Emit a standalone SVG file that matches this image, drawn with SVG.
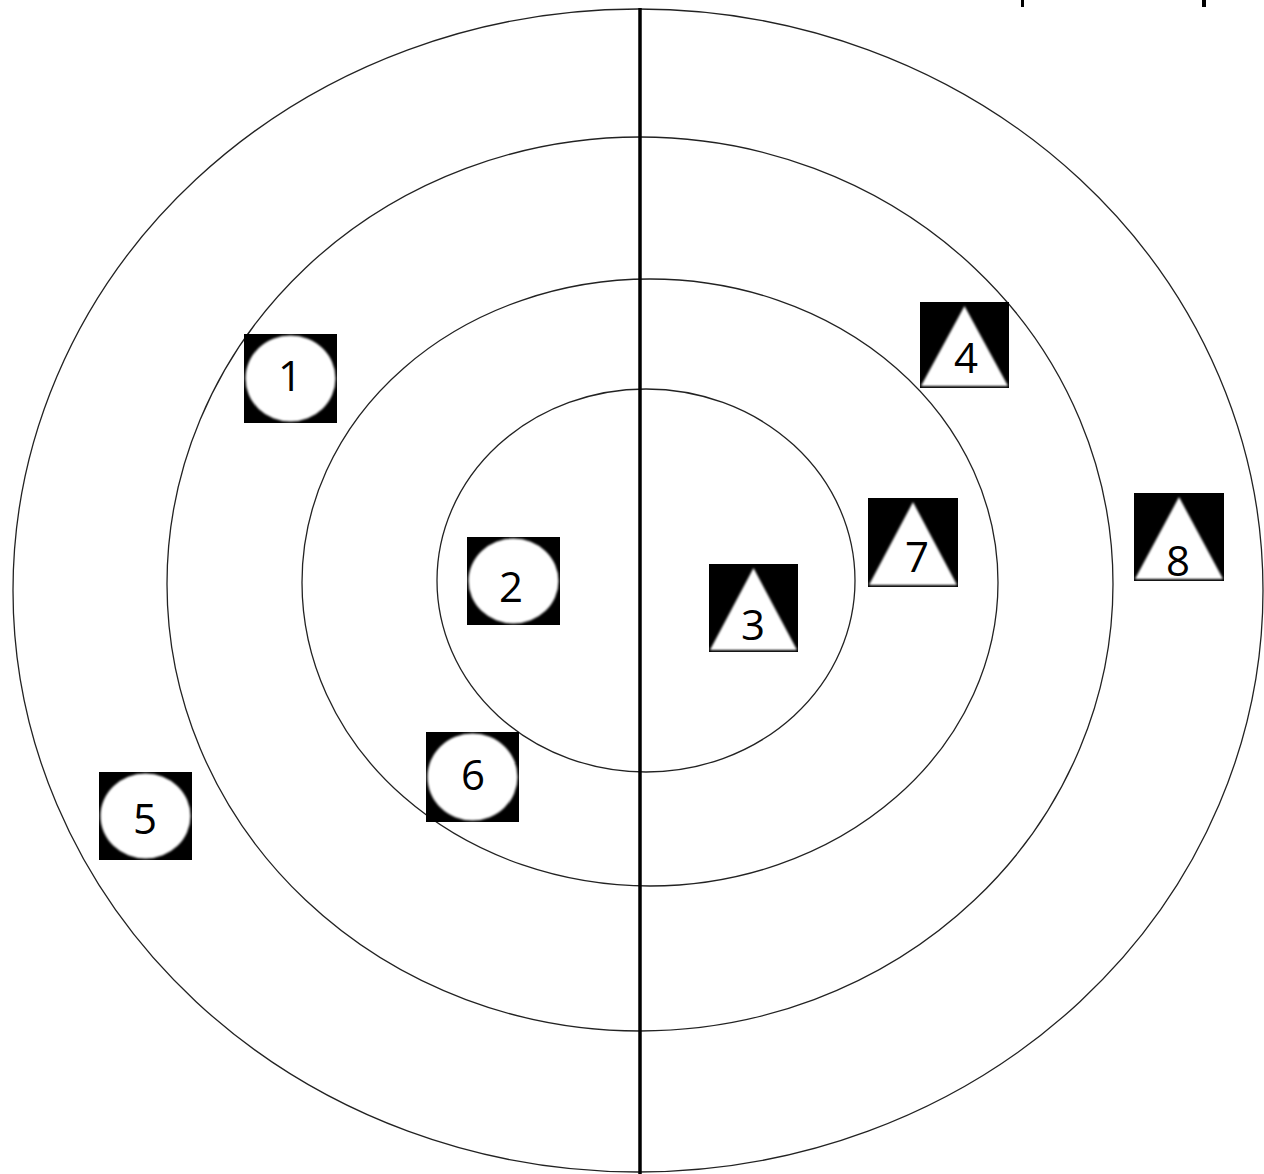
<svg xmlns="http://www.w3.org/2000/svg" width="1264" height="1174" viewBox="0 0 1264 1174">
<style>
.ring{fill:none;stroke:#222;stroke-width:1.3}
.bg{fill:#000}
.w{fill:#fff;filter:url(#soft)}
.lbl{font-family:"Open Sans","Noto Sans",sans-serif;font-size:42px;fill:#000;text-anchor:middle;dominant-baseline:central}
</style>
<defs>
<filter id="soft" x="-10%" y="-10%" width="120%" height="120%"><feGaussianBlur stdDeviation="1.2"/></filter>
</defs>
<rect width="1264" height="1174" fill="#fff"/>
<g id="rings">
<ellipse class="ring" cx="638" cy="590.5" rx="625" ry="581.5"/>
<ellipse class="ring" cx="640" cy="584" rx="473" ry="447"/>
<ellipse class="ring" cx="650" cy="582.5" rx="348" ry="303.5"/>
<ellipse class="ring" cx="646" cy="580.5" rx="209" ry="191.5"/>
</g>
<g id="connectors">
<line x1="640" y1="8" x2="640" y2="1174" stroke="#000" stroke-width="3.5"/>
</g>
<g id="edge-marks">
<rect x="1021" y="0" width="3" height="7" fill="#000"/>
<rect x="1202" y="0" width="4" height="7" fill="#000"/>
</g>
<g id="node1"><rect class="bg" x="244" y="334" width="93" height="89"/><ellipse class="w" cx="290.5" cy="378.5" rx="45" ry="43"/><text class="lbl" x="290" y="374">1</text></g>
<g id="node2"><rect class="bg" x="467" y="537" width="93" height="88"/><ellipse class="w" cx="513.5" cy="581" rx="45" ry="42.5"/><text class="lbl" x="511" y="585">2</text></g>
<g id="node3"><rect class="bg" x="709" y="564" width="89" height="88"/><polygon class="w" points="753.5,568 797,650 710,650"/><text class="lbl" x="753" y="623">3</text></g>
<g id="node4"><rect class="bg" x="920" y="302" width="89" height="86"/><polygon class="w" points="964.5,306 1008,386 921,386"/><text class="lbl" x="966" y="356">4</text></g>
<g id="node5"><rect class="bg" x="99" y="772" width="93" height="88"/><ellipse class="w" cx="145.5" cy="816" rx="45" ry="42.5"/><text class="lbl" x="145" y="817">5</text></g>
<g id="node6"><rect class="bg" x="426" y="732" width="93" height="90"/><ellipse class="w" cx="472.5" cy="777" rx="45" ry="43.5"/><text class="lbl" x="473" y="773">6</text></g>
<g id="node7"><rect class="bg" x="868" y="498" width="90" height="89"/><polygon class="w" points="913,502 957,585 869,585"/><text class="lbl" x="917" y="555">7</text></g>
<g id="node8"><rect class="bg" x="1134" y="493" width="90" height="88"/><polygon class="w" points="1179,497 1223,579 1135,579"/><text class="lbl" x="1178" y="559">8</text></g>
</svg>
